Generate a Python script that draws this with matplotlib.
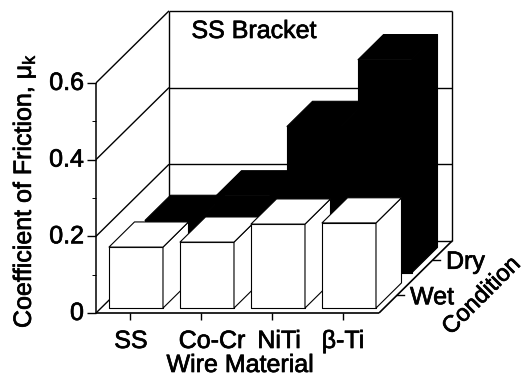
import matplotlib
matplotlib.use("Agg")
import matplotlib.pyplot as plt
import matplotlib.patheffects as pe
from matplotlib.patches import Polygon

plt.rcParams['font.family'] = ['Liberation Sans', 'DejaVu Sans']

materials = ["SS", "Co-Cr", "NiTi", "β-Ti"]
wet = [0.159, 0.172, 0.219, 0.222]
dry = [0.136, 0.200, 0.381, 0.555]
value_ticks = [0, 0.2, 0.4, 0.6]
value_labels = ["0", "0.2", "0.4", "0.6"]
minor_ticks = [0.1, 0.3, 0.5]
conditions = ["Wet", "Dry"]
label_shift = [1, 11, 7, 0]   # x labels are not quite under their ticks

W, H = 524, 376
X_PX = 71.0      # pixels per category
Y_PX = 383.5     # pixels per unit of friction
X0, Y0 = 130, 313
DX = 73 / X_PX   # depth shift, back wall relative to front plane
DY = 72 / Y_PX
BAR_W = 54 / X_PX
BAR_DEPTH = 25.5 / 73
WET_D = 5 / 73
DRY_D = 41 / 73
BOLD = [pe.withStroke(linewidth=0.5, foreground="black")]
TEXT = dict(fontsize=18, path_effects=BOLD, color="black")


def pt(x, v, d=0.0):
    return x + d * DX, v + d * DY


def line(ax, a, b, lw=1.0, z=1):
    ax.plot([a[0], b[0]], [a[1], b[1]], color="black", lw=lw, zorder=z,
            solid_capstyle="butt")


def box(ax, x, v, d0, face, z):
    d1 = d0 + BAR_DEPTH
    x0, x1 = x - BAR_W / 2, x + BAR_W / 2
    faces = [
        [pt(x0, 0, d0), pt(x1, 0, d0), pt(x1, v, d0), pt(x0, v, d0)],
        [pt(x1, 0, d0), pt(x1, 0, d1), pt(x1, v, d1), pt(x1, v, d0)],
        [pt(x0, v, d0), pt(x1, v, d0), pt(x1, v, d1), pt(x0, v, d1)],
    ]
    for f in faces:
        ax.add_patch(Polygon(f, closed=True, facecolor=face, edgecolor="black",
                             lw=0.8, zorder=z, joinstyle="round"))


fig = plt.figure(figsize=(W / 100, H / 100), dpi=100)
ax = fig.add_axes([0, 0, 1, 1])
ax.set_xlim(-X0 / X_PX, (W - X0) / X_PX)
ax.set_ylim(-(H - Y0) / Y_PX, Y0 / Y_PX)
ax.axis("off")

left = -34 / X_PX
right = 249 / X_PX
top = value_ticks[-1]

# walls and floor
for v in value_ticks:
    line(ax, pt(left, v), pt(left, v, 1))
    line(ax, pt(left, v, 1), pt(right, v, 1))
line(ax, pt(left, 0), pt(left, top), lw=1.1)
line(ax, pt(left, 0, 1), pt(left, top, 1))
line(ax, pt(right, 0, 1), pt(right, top, 1))
line(ax, pt(left, 0), pt(right, 0), lw=1.2)
line(ax, pt(right, 0), pt(right, 0, 1), lw=1.2)

# value axis ticks
for v, lab in zip(value_ticks, value_labels):
    line(ax, pt(left - 9 / X_PX, v), pt(left, v))
    ax.text(left - 12 / X_PX, v, lab, ha="right", va="center", **TEXT)
for v in minor_ticks:
    line(ax, pt(left - 4 / X_PX, v), pt(left, v), lw=0.7)

# bars, back row first
for i, v in enumerate(dry):
    box(ax, i + 1 / X_PX, v, DRY_D, "black", 3)
for i, v in enumerate(wet):
    box(ax, i + 1 / X_PX, v, WET_D, "white", 4 + i)

# category ticks and labels
for i, name in enumerate(materials):
    line(ax, pt(i, 0), pt(i, -7 / Y_PX))
    ax.text(i + label_shift[i] / X_PX, -28 / Y_PX, name, ha="center", va="center", **TEXT)

# condition ticks and labels
for d, name in zip([18 / 73, 54 / 73], conditions):
    a = pt(right, 0, d)
    ax.plot([a[0], a[0] + 7 / X_PX], [a[1], a[1]], color="black", lw=1.0)
    ax.text(a[0] + 13 / X_PX, a[1] - 2 / Y_PX, name, ha="left", va="center", **TEXT)

ax.text(110 / X_PX, -52 / Y_PX, "Wire Material", ha="center", va="center", **TEXT)
ax.text(124 / X_PX, 282 / Y_PX, "SS Bracket", ha="center", va="center", **TEXT)
ax.text(-106 / X_PX, 122 / Y_PX, r"Coefficient of Friction, $\mathregular{\mu_k}$",
        rotation=90, ha="center", va="center", **TEXT)
ax.text(352 / X_PX, 17 / Y_PX, "Condition", rotation=45, ha="center", va="center",
        fontsize=17, path_effects=BOLD)

fig.savefig("out.png", dpi=100)
